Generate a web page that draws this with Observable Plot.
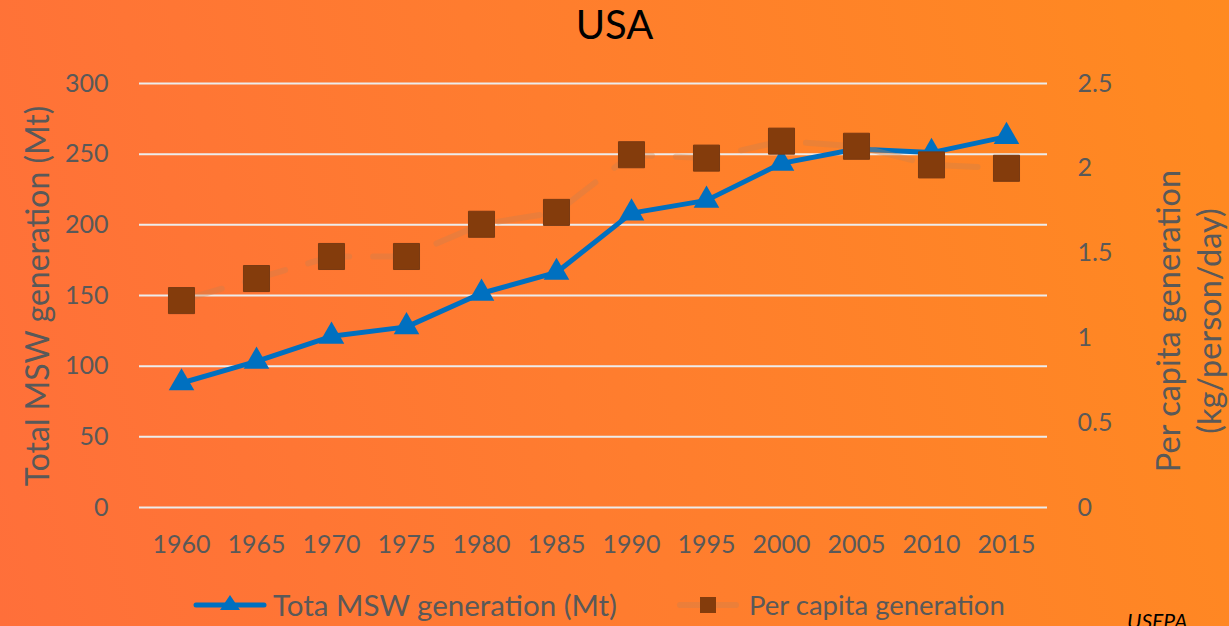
<!DOCTYPE html>
<html>
<head>
<meta charset="utf-8">
<script src="https://cdn.jsdelivr.net/npm/d3@7"></script>
<script src="https://cdn.jsdelivr.net/npm/@observablehq/plot@0.6"></script>
<style>
  html, body { margin: 0; padding: 0; }
  #chart {
    position: relative; width: 1229px; height: 626px; overflow: hidden;
    background: linear-gradient(75deg, #FF6F3A 0%, #FF7C2F 45%, #FF8A20 100%);
    font-family: Lato, "Open Sans", sans-serif; color: #595959;
  }
  #plot { position: absolute; left: 0; top: 0; }
  #title {
    position: absolute; left: 0; top: 4px; width: 1229px; text-align: center;
    font-size: 40px; line-height: 40px; color: #000;
  }
  .ytitle {
    position: absolute; white-space: nowrap; text-align: center;
    transform: translate(-50%, -50%) rotate(-90deg);
  }
  #ytitle-left { left: 37px; top: 296px; font-size: 32px; line-height: 32px; }
  #ytitle-right { left: 1188px; top: 321px; font-size: 32.5px; line-height: 41px; }
  .legend-item { position: absolute; top: 590px; height: 30px; }
  .legend-text { position: absolute; white-space: nowrap; }
  #source {
    position: absolute; left: 1127px; top: 610px; font-size: 21px; line-height: 21px;
    font-style: italic; color: #000;
  }
</style>
</head>
<body>
<div id="chart">
  <div id="plot"></div>
  <div id="title">USA</div>
  <div class="ytitle" id="ytitle-left">Total MSW generation (Mt)</div>
  <div class="ytitle" id="ytitle-right">Per capita generation<br>(kg/person/day)</div>
  <svg class="legend-item" style="left:192px" width="76" height="30">
    <line x1="4" y1="15" x2="72" y2="15" stroke="#0070C0" stroke-width="5" stroke-linecap="round"/>
    <path d="M38,5 L48,20 L28,20 Z" fill="#0070C0"/>
  </svg>
  <div class="legend-text" style="left:273px; top:590px; font-size:29.5px; line-height:29.5px">Tota MSW generation (Mt)</div>
  <svg class="legend-item" style="left:674px" width="68" height="30">
    <line x1="6" y1="15" x2="62" y2="15" stroke="#C5804F" stroke-opacity="0.35" stroke-width="6" stroke-linecap="round"/>
    <rect x="26" y="7" width="16" height="16" fill="#843C0C"/>
  </svg>
  <div class="legend-text" style="left:749px; top:591px; font-size:27.5px; line-height:27.5px">Per capita generation</div>
  <div id="source">USEPA</div>
</div>
<script>
// Municipal solid waste in the USA, five-year steps
const years = ["1960", "1965", "1970", "1975", "1980", "1985", "1990", "1995", "2000", "2005", "2010", "2015"];
const totalMSW = [88.1, 103.4, 121.1, 127.8, 151.6, 166.3, 208.3, 217.3, 243.5, 253.7, 251.1, 262.4]; // Mt
const perCapita = [1.22, 1.35, 1.48, 1.48, 1.67, 1.74, 2.08, 2.06, 2.16, 2.13, 2.02, 2.00]; // kg/person/day
const leftTicks = [0, 50, 100, 150, 200, 250, 300];
const rightTicks = [0, 0.5, 1, 1.5, 2, 2.5];

// The per-capita series shares the left y scale, stretched so 2.5 lines up with 300
const k = 300 / 2.5;
const rows = years.map((year, i) => ({ year, total: totalMSW[i], perCapita: perCapita[i] }));

const chart = Plot.plot({
  width: 1229,
  height: 626,
  marginTop: 83,
  marginBottom: 119,
  marginLeft: 139,
  marginRight: 182,
  style: { background: "transparent", color: "#595959", fontFamily: "Lato, 'Open Sans', sans-serif", fontSize: "25px", overflow: "visible" },
  x: { type: "point", domain: years, padding: 0.5 },
  y: { domain: [0, 300] },
  marks: [
    Plot.gridY(leftTicks, { stroke: "#ececec", strokeOpacity: 1, strokeWidth: 2 }),
    Plot.axisY(leftTicks, { anchor: "left", tickSize: 0, tickPadding: 31, label: null }),
    Plot.axisY(rightTicks.map(t => t * k), { anchor: "right", tickSize: 0, tickPadding: 30, label: null, tickFormat: d => String(d / k) }),
    Plot.axisX({ tickSize: 0, tickPadding: 28, label: null }),
    Plot.line(rows, { x: "year", y: "total", stroke: "#0070C0", strokeWidth: 5 }),
    Plot.dot(rows, { x: "year", y: "total", symbol: "triangle", r: 9.5, fill: "#0070C0" }),
    Plot.line(rows, { x: "year", y: d => d.perCapita * k, stroke: "#C5804F", strokeOpacity: 0.35, strokeWidth: 6, strokeDasharray: "42,24", strokeLinecap: "round" }),
    Plot.dot(rows, { x: "year", y: d => d.perCapita * k, symbol: "square", r: 14.7, fill: "#843C0C", stroke: "#7A3A12", strokeWidth: 1 })
  ]
});
document.getElementById("plot").appendChild(chart);
</script>
</body>
</html>
